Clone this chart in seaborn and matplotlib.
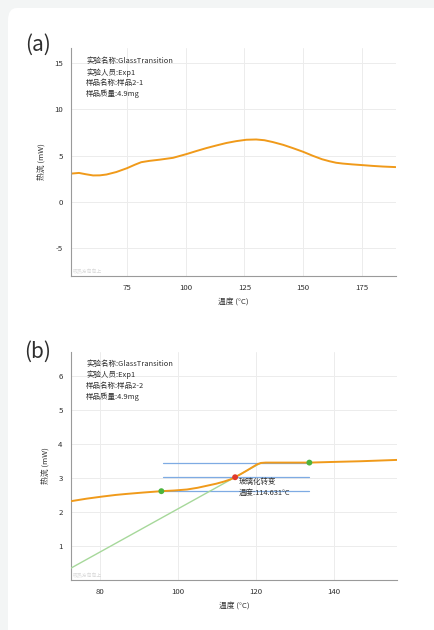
import matplotlib
matplotlib.use("Agg")
import matplotlib.pyplot as plt
from matplotlib.patches import FancyBboxPatch
from matplotlib.ticker import MultipleLocator
import seaborn as sns

# ---- data: panel (a) full DSC scan ----
a_temp = [51.3, 54.6, 57.5, 60.6, 63.5, 66.3, 70.5, 75.0, 78.5, 81.1, 84.5, 88.9, 94.6,
          100.3, 104.5, 108.8, 113.0, 117.3, 121.5, 125.8, 130.0, 133.5, 137.1, 141.5,
          145.6, 150.0, 154.1, 158.0, 161.2, 164.0, 166.9, 171.0, 175.4, 179.5, 183.9, 189.3]
a_flow = [3.05, 3.12, 2.98, 2.85, 2.86, 2.95, 3.22, 3.63, 4.02, 4.28, 4.42, 4.55, 4.75,
          5.15, 5.48, 5.80, 6.08, 6.35, 6.55, 6.70, 6.73, 6.65, 6.45, 6.15,
          5.80, 5.40, 4.97, 4.60, 4.38, 4.22, 4.13, 4.04, 3.96, 3.88, 3.81, 3.75]

# ---- data: panel (b) glass transition region ----
b_temp = [72.7, 76.5, 80.4, 84.0, 86.8, 91.0, 95.7, 99.0, 102.3, 105.0, 107.4, 109.8,
          111.7, 113.3, 114.631, 116.2, 117.7, 119.0, 120.3, 121.3, 122.5, 127.0,
          133.7, 140.0, 146.9, 156.5]
b_flow = [2.32, 2.39, 2.45, 2.50, 2.53, 2.57, 2.61, 2.63, 2.66, 2.71, 2.77, 2.83,
          2.89, 2.95, 3.02, 3.12, 3.22, 3.31, 3.40, 3.44, 3.45, 3.45,
          3.45, 3.47, 3.49, 3.53]

tangent_temp = [72.5, 121.4]
tangent_flow = [0.35, 3.45]
guide_levels = [3.45, 3.02, 2.61]
guide_span = [96.0, 133.5]
onset_temp, onset_flow = 95.7, 2.61
end_temp, end_flow = 133.7, 3.45
tg_temp, tg_flow = 114.631, 3.02

info_a = ["实验名称:GlassTransition", "实验人员:Exp1", "样品名称:样品2-1", "样品质量:4.9mg"]
info_b = ["实验名称:GlassTransition", "实验人员:Exp1", "样品名称:样品2-2", "样品质量:4.9mg"]

ORANGE = "#f09a1a"
GREEN = "#4cb43c"
RED = "#e0392a"
BLUE = "#7eabe3"
TANGENT = "#a6d89a"
TEXT = "#2e2e2e"

sns.set_theme(style="white")
plt.rcParams["font.family"] = ["Noto Sans CJK SC", "DejaVu Sans"]
plt.rcParams["axes.unicode_minus"] = False

W, H = 435, 630
fig = plt.figure(figsize=(W / 100, H / 100), dpi=100)
fig.patch.set_facecolor("#f3f5f5")

# white card behind everything
card = FancyBboxPatch((8 / W, -0.05), 1.2, 1 - 8 / H + 0.05,
                      boxstyle="round,pad=0,rounding_size=0.02",
                      transform=fig.transFigure, facecolor="white",
                      edgecolor="none", zorder=-10)
fig.patches.append(card)


def px_axes(left, top, right, bottom):
    ax = fig.add_axes([left / W, 1 - bottom / H, (right - left) / W, (bottom - top) / H])
    ax.set_zorder(2)
    return ax


def style_axes(ax):
    ax.set_facecolor("none")
    for s in ["top", "right"]:
        ax.spines[s].set_visible(False)
    for s in ["left", "bottom"]:
        ax.spines[s].set_color("#9a9a9a")
        ax.spines[s].set_linewidth(0.8)
    ax.grid(True, which="major", color="#ececec", linewidth=0.7)
    ax.tick_params(which="major", direction="out", length=3, width=0.6,
                   color="#9a9a9a", labelsize=5.6, labelcolor=TEXT, pad=3)
    ax.tick_params(which="minor", direction="out", length=1.8, width=0.5, color="#9a9a9a")
    ax.set_xlabel("温度 (°C)", fontsize=5.6, color=TEXT, labelpad=4)
    ax.set_ylabel("热流 (mW)", fontsize=5.6, color=TEXT, labelpad=6)
    ax.text(0.005, 0.01, "吸热方向向上", transform=ax.transAxes, fontsize=3.5,
            color="#d8d8d8", ha="left", va="bottom")


def info_block(lines, x, ys):
    for line, y in zip(lines, ys):
        fig.text(x / W, 1 - y / H, line, fontsize=5.4, color=TEXT, ha="left",
                 va="center", zorder=3)


# ---- panel (a) ----
ax1 = px_axes(71, 48, 396, 276)
sns.lineplot(x=a_temp, y=a_flow, ax=ax1, color=ORANGE, linewidth=1.4)
ax1.set_xlim(51.2, 189.5)
ax1.set_ylim(-8, 16.6)
ax1.xaxis.set_major_locator(MultipleLocator(25))
ax1.xaxis.set_minor_locator(MultipleLocator(5))
ax1.yaxis.set_major_locator(MultipleLocator(5))
ax1.yaxis.set_minor_locator(MultipleLocator(1))
style_axes(ax1)
info_block(info_a, 86, [61.3, 72.3, 83.3, 94.3])
fig.text(38 / W, 1 - 45 / H, "(a)", fontsize=15, color=TEXT, ha="center", va="center")

# ---- panel (b) ----
ax2 = px_axes(71, 352, 397, 580)
for lvl in guide_levels:
    ax2.plot(guide_span, [lvl, lvl], color=BLUE, linewidth=0.9, zorder=2)
sns.lineplot(x=tangent_temp, y=tangent_flow, ax=ax2, color=TANGENT, linewidth=1.0, zorder=3)
sns.lineplot(x=b_temp, y=b_flow, ax=ax2, color=ORANGE, linewidth=1.4, zorder=4)
sns.scatterplot(x=[onset_temp, end_temp], y=[onset_flow, end_flow], ax=ax2,
                color=GREEN, s=18, edgecolor="none", zorder=5)
sns.scatterplot(x=[tg_temp], y=[tg_flow], ax=ax2, color=RED, s=18,
                edgecolor="none", zorder=5)
ax2.text(tg_temp + 0.9, tg_flow - 0.15, "玻璃化转变", fontsize=5.4, color=TEXT,
         ha="left", va="center", zorder=6)
ax2.text(tg_temp + 0.9, tg_flow - 0.47, f"温度:{tg_temp:.3f}°C", fontsize=5.4, color=TEXT,
         ha="left", va="center", zorder=6)
ax2.set_xlim(72.5, 156.2)
ax2.set_ylim(0, 6.7)
ax2.xaxis.set_major_locator(MultipleLocator(20))
ax2.xaxis.set_minor_locator(MultipleLocator(5))
ax2.yaxis.set_major_locator(MultipleLocator(1))
ax2.yaxis.set_minor_locator(MultipleLocator(0.2))
style_axes(ax2)
ax2.set_yticks([1, 2, 3, 4, 5, 6])
info_block(info_b, 86, [363.7, 374.7, 385.7, 396.7])
fig.text(38 / W, 1 - 352 / H, "(b)", fontsize=15, color=TEXT, ha="center", va="center")

fig.savefig("out.png", dpi=100, facecolor=fig.get_facecolor())
